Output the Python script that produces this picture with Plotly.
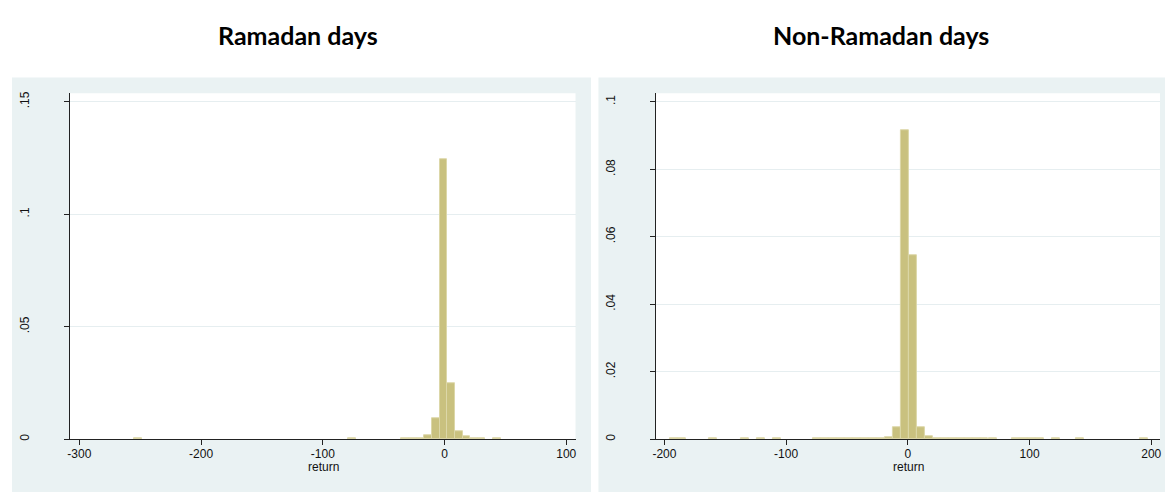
import plotly.graph_objects as go

# Histogram of daily returns: bin centres and densities per panel
ram_bin_width = 6.27
ram_centers = [-251.7, -76.2, -32.3, -26.0, -19.75, -13.46, -7.2, -0.94, 5.36,
               11.62, 17.88, 24.2, 30.4, 43.0]
ram_density = [0.0003, 0.0003, 0.0002, 0.0002, 0.0006, 0.0019, 0.0094, 0.1246,
               0.0249, 0.0037, 0.0015, 0.0003, 0.0003, 0.0003]

non_bin_width = 6.55
non_centers = [-192.6, -186.0, -159.8, -133.6, -120.5, -107.4,
               -74.67, -68.12, -61.57, -55.02, -48.47, -41.92, -35.37, -28.82, -22.27,
               -15.8, -9.25, -2.7, 3.95, 10.4, 16.9,
               23.6, 30.2, 36.7, 43.3, 49.8, 56.4, 62.9, 69.5,
               89.07, 95.62, 102.2, 108.7, 121.8, 141.5, 193.9]
non_density = [0.0003, 0.0003, 0.0003, 0.0003, 0.0003, 0.0003,
               0.0003, 0.0003, 0.0003, 0.0003, 0.0003, 0.0003, 0.0003, 0.0003, 0.0003,
               0.0005, 0.00365, 0.0916, 0.0546, 0.0034, 0.0008,
               0.0003, 0.0003, 0.0003, 0.0003, 0.0003, 0.0003, 0.0003, 0.0003,
               0.0003, 0.0003, 0.0003, 0.0003, 0.0003, 0.0003, 0.0003]

ram_yticks = [0, 0.05, 0.1, 0.15]
ram_ytext = ["0", ".05", ".1", ".15"]
non_yticks = [0, 0.02, 0.04, 0.06, 0.08, 0.1]
non_ytext = ["0", ".02", ".04", ".06", ".08", ".1"]
ram_xticks = [-300, -200, -100, 0, 100]
ram_xtext = ["-300", "-200", "-100", "0", "100"]
non_xticks = [-200, -100, 0, 100, 200]
non_xtext = ["-200", "-100", "0", "100", "200"]

titles = ["Ramadan days", "Non-Ramadan days"]
x_title = "return"

W, H = 1167, 494
BAR = "#C9C17F"
BAR_EDGE = "#DCD7A8"
PANEL = "#EAF2F3"
SANS = "Liberation Sans, Arial, sans-serif"
TICKFONT = dict(family=SANS, size=12, color="#111111")

fig = go.Figure()
fig.add_trace(go.Bar(x=ram_centers, y=ram_density, width=ram_bin_width,
                     marker=dict(color=BAR, line=dict(color=BAR_EDGE, width=1)),
                     xaxis="x", yaxis="y", showlegend=False))
fig.add_trace(go.Bar(x=non_centers, y=non_density, width=non_bin_width,
                     marker=dict(color=BAR, line=dict(color=BAR_EDGE, width=1)),
                     xaxis="x2", yaxis="y2", showlegend=False))


def px_x(v):
    return v / W


def px_y(v):
    return 1 - v / H


plot_top, plot_bottom = 92, 440.7
ydom = [px_y(plot_bottom), px_y(plot_top)]
left_dom = [67.3, 575]
right_dom = [655.7, 1162]

xaxis_common = dict(
    showgrid=False, zeroline=False, showline=True, linecolor="#222222", linewidth=1,
    ticks="outside", ticklen=5, tickcolor="#222222", tickfont=TICKFONT,
    ticklabelstandoff=-2,
)
yaxis_common = dict(
    showgrid=True, gridcolor="#E6EEF0", gridwidth=1, zeroline=False,
    showline=True, linecolor="#222222", linewidth=1,
    ticks="outside", ticklen=5, tickcolor="#222222", tickfont=TICKFONT,
    tickangle=-90, ticklabelstandoff=30,
)

fig.update_layout(
    width=W, height=H,
    margin=dict(l=0, r=0, t=0, b=0),
    paper_bgcolor="white", plot_bgcolor="white",
    bargap=0,
    xaxis=dict(**xaxis_common, domain=[px_x(left_dom[0]), px_x(left_dom[1])],
               range=[-307.7, 107.6], tickvals=ram_xticks, ticktext=ram_xtext,
               anchor="y"),
    yaxis=dict(**yaxis_common, domain=ydom, range=[0, 0.1538],
               tickvals=ram_yticks, ticktext=ram_ytext, anchor="x"),
    xaxis2=dict(**xaxis_common, domain=[px_x(right_dom[0]), px_x(right_dom[1])],
                range=[-207.0, 207.2], tickvals=non_xticks, ticktext=non_xtext,
                anchor="y2"),
    yaxis2=dict(**yaxis_common, domain=ydom, range=[0, 0.10256],
                tickvals=non_yticks, ticktext=non_ytext, anchor="x2"),
)

# Light panel backgrounds behind each graph, with white plot regions on top
for x0, x1 in [(9, 590.5), (598, 1167)]:
    fig.add_shape(type="rect", xref="paper", yref="paper",
                  x0=px_x(x0), x1=px_x(x1), y0=0, y1=px_y(76),
                  fillcolor=PANEL, line=dict(width=0), layer="below")
for d in [left_dom, right_dom]:
    fig.add_shape(type="rect", xref="paper", yref="paper",
                  x0=px_x(d[0]), x1=px_x(d[1]), y0=ydom[0], y1=ydom[1],
                  fillcolor="white", line=dict(width=0), layer="below")

# Axis titles
for d in [left_dom, right_dom]:
    fig.add_annotation(text=x_title, xref="paper", yref="paper",
                       x=px_x((d[0] + d[1]) / 2 + 0.5), y=px_y(469), showarrow=False,
                       xanchor="center", yanchor="middle",
                       font=dict(family=SANS, size=12, color="#111111"))

# Panel headings
for text, cx in zip(titles, [296, 882]):
    fig.add_annotation(text=f"<b>{text}</b>", xref="paper", yref="paper",
                       x=px_x(cx), y=px_y(33), showarrow=False,
                       xanchor="center", yanchor="middle",
                       font=dict(family="Lato, Open Sans, sans-serif", size=25,
                                 color="#000000"))

fig.write_html("out.html")
